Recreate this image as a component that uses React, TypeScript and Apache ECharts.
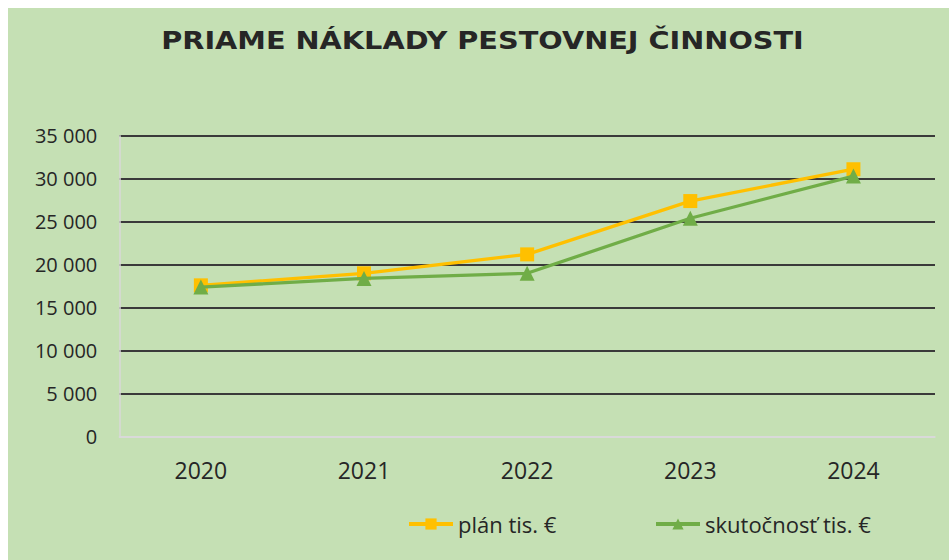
import React, { useEffect, useRef } from "react";
import * as echarts from "echarts";

const titleText = "PRIAME NÁKLADY PESTOVNEJ ČINNOSTI";
const years = ["2020", "2021", "2022", "2023", "2024"];
const planName = "plán tis. €";
const actualName = "skutočnosť tis. €";
const planValues = [17600, 19000, 21200, 27400, 31100];
const actualValues = [17400, 18400, 19000, 25400, 30300];
const yMin = 0;
const yMax = 35000;
const yStep = 5000;

const formatThousands = (v: number) => {
  if (v < 1000) return String(v);
  const th = Math.floor(v / 1000);
  const rest = String(v % 1000).padStart(3, "0");
  return `${th} ${rest}`;
};

const W = 941;
const H = 552;

export default function App() {
  const ref = useRef<HTMLDivElement>(null);
  useEffect(() => {
    if (!ref.current) return;
    const chart = echarts.init(ref.current, undefined, { renderer: "svg" });
    const titleFont = "bold 24px 'DejaVu Sans'";
    let titleW = 538;
    try {
      const ctx = document.createElement("canvas").getContext("2d");
      if (ctx) {
        ctx.font = titleFont;
        titleW = ctx.measureText(titleText).width;
      }
    } catch (e) {}
    const targetW = 643;
    const sx = targetW / titleW;
    const nLines = Math.round((yMax - yMin) / yStep) + 1;
    const splitColors = Array.from({ length: nLines }, (_, i) => (i === 0 ? "#d9d9d9" : "#3a3a3a"));
    const textColor = "#262626";
    const legendBase = {
      itemWidth: 44,
      itemHeight: 14,
      padding: 0,
      lineStyle: { width: 4 },
      textStyle: { fontSize: 22, color: textColor, fontFamily: "'Open Sans', sans-serif" },
    };
    chart.setOption({
      animation: false,
      backgroundColor: "transparent",
      textStyle: { fontFamily: "'Open Sans', sans-serif" },
      graphic: [
        {
          type: "text",
          x: 474.5,
          y: 32.5,
          scaleX: sx,
          scaleY: 1,
          style: {
            text: titleText,
            font: titleFont,
            fill: textColor,
            align: "center",
            verticalAlign: "middle",
          },
        },
      ],
      grid: { left: 111.3, right: 14, top: 127.7, bottom: 123.3, containLabel: false },
      legend: [
        { ...legendBase, data: [planName], left: 399, top: 505 },
        { ...legendBase, data: [actualName], left: 646, top: 505 },
      ],
      xAxis: {
        type: "category",
        data: years,
        boundaryGap: true,
        axisLine: { show: true, lineStyle: { color: "#d9d9d9", width: 1.5 } },
        axisTick: { show: false },
        axisLabel: { fontSize: 23, color: textColor, margin: 22, fontFamily: "'Open Sans', sans-serif" },
      },
      yAxis: {
        type: "value",
        min: yMin,
        max: yMax,
        interval: yStep,
        axisLine: { show: true, lineStyle: { color: "#d9d9d9", width: 1.5 } },
        axisTick: { show: false },
        axisLabel: {
          fontSize: 20,
          color: textColor,
          margin: 22,
          formatter: (v: number) => formatThousands(v),
          fontFamily: "'Open Sans', sans-serif",
        },
        splitLine: { show: true, lineStyle: { color: splitColors, width: 1.8 } },
      },
      series: [
        {
          name: planName,
          type: "line",
          data: planValues,
          symbol: "rect",
          symbolSize: 14,
          lineStyle: { color: "#FFC000", width: 3.3 },
          itemStyle: { color: "#FFC000" },
          z: 2,
        },
        {
          name: actualName,
          type: "line",
          data: actualValues,
          symbol: "triangle",
          symbolSize: 15,
          lineStyle: { color: "#70AD47", width: 3.3 },
          itemStyle: { color: "#70AD47" },
          z: 3,
        },
      ],
    });
    return () => chart.dispose();
  }, []);
  return (
    <div
      style={{
        position: "fixed",
        left: 8,
        top: 8,
        width: W,
        height: H,
        background: "#C5E0B4",
      }}
    >
      <div ref={ref} style={{ width: W, height: H }} />
    </div>
  );
}
